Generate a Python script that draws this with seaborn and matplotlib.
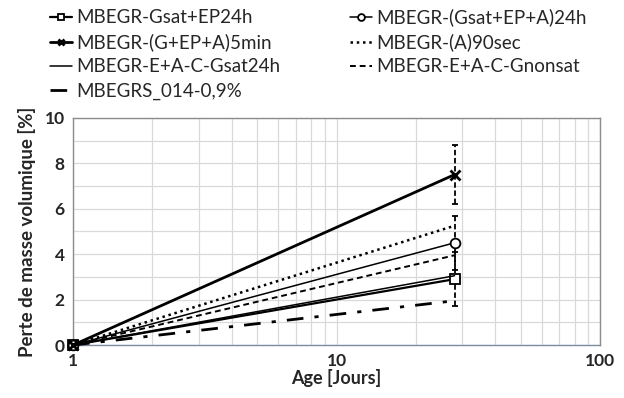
import matplotlib
matplotlib.use("Agg")
import matplotlib.pyplot as plt
import seaborn as sns
import pandas as pd
from matplotlib.ticker import FixedLocator, NullFormatter, LogLocator

sns.set_style("white")
plt.rcParams['font.family'] = ['Lato', 'DejaVu Sans']

# Data
ages = [1, 28]
series_names = ["MBEGR-Gsat+EP24h", "MBEGR-(Gsat+EP+A)24h",
                "MBEGR-(G+EP+A)5min", "MBEGR-(A)90sec",
                "MBEGR-E+A-C-Gsat24h", "MBEGR-E+A-C-Gnonsat",
                "MBEGRS_014-0,9%"]
series_values = [[0, 2.9], [0, 4.5], [0, 7.5], [0, 5.25],
                 [0, 3.05], [0, 3.95], [0, 1.95]]
err_names = ["MBEGR-Gsat+EP24h", "MBEGR-(Gsat+EP+A)24h", "MBEGR-(G+EP+A)5min"]
err_values = [1.2, 1.2, 1.3]

styles = {
    "MBEGR-Gsat+EP24h": dict(linestyle='-', marker='s', lw=1.6, ms=7),
    "MBEGR-(Gsat+EP+A)24h": dict(linestyle='-', marker='o', lw=1.1, ms=7),
    "MBEGR-(G+EP+A)5min": dict(linestyle='-', marker='x', lw=2.0, ms=7, mew=2),
    "MBEGR-(A)90sec": dict(linestyle=(0, (1, 1.5)), marker='', lw=1.8),
    "MBEGR-E+A-C-Gsat24h": dict(linestyle='-', marker='', lw=1.1),
    "MBEGR-E+A-C-Gnonsat": dict(linestyle=(0, (3, 2)), marker='', lw=1.4),
    "MBEGRS_014-0,9%": dict(linestyle=(0, (6, 4, 1.5, 4)), marker='', lw=2.0),
}

fig = plt.figure(figsize=(6.24, 3.98), dpi=100)
ax = fig.add_axes([0.117, 0.133, 0.845, 0.571])

for name, vals in zip(series_names, series_values):
    df = pd.DataFrame({"Age": ages, "Perte": vals})
    st = styles[name]
    sns.lineplot(data=df, x="Age", y="Perte", ax=ax, color='black',
                 linestyle=st['linestyle'], lw=st['lw'], marker=st['marker'] or None,
                 markersize=st.get('ms', 0), markeredgewidth=st.get('mew', 1.3),
                 markerfacecolor='white', markeredgecolor='black', label=name,
                 clip_on=False, zorder=3)

for name, e in zip(err_names, err_values):
    y = series_values[series_names.index(name)][1]
    eb = ax.errorbar([ages[1]], [y], yerr=[e], fmt='none', ecolor='black',
                     elinewidth=1.3, capsize=2, capthick=1.3, zorder=2)
    eb[-1][0].set_linestyle((0, (3, 1.5)))

ax.set_xscale('log')
ax.set_xlim(1, 100)
ax.set_ylim(0, 10)
ax.set_xticks([1, 10, 100])
ax.set_xticklabels(['1', '10', '100'])
ax.xaxis.set_minor_locator(LogLocator(base=10, subs=range(2, 10)))
ax.xaxis.set_minor_formatter(NullFormatter())
ax.set_yticks([0, 2, 4, 6, 8, 10])
ax.yaxis.set_minor_locator(FixedLocator([1, 3, 5, 7, 9]))
ax.grid(True, which='both', color='#d9d9d9', lw=0.9)
ax.set_axisbelow(True)
ax.tick_params(axis='both', which='both', length=0, labelsize=12.5, pad=6)
for lab in ax.get_xticklabels() + ax.get_yticklabels():
    lab.set_fontweight('bold')
for s in ax.spines.values():
    s.set_color('#8c8c8c')
    s.set_linewidth(1.0)
ax.spines['bottom'].set_color('#7f8ca0')

ax.set_xlabel('Age [Jours]', fontsize=13, fontweight='bold', labelpad=0)
ax.set_ylabel('Perte de masse volumique [%]', fontsize=13.5, fontweight='bold', labelpad=6)

# row-major order like the original legend
handles, labels = ax.get_legend_handles_labels()
order = [0, 2, 4, 6, 1, 3, 5]
leg = ax.legend([handles[i] for i in order], [labels[i] for i in order], ncol=2,
                loc='upper left', frameon=False, fontsize=13.5, markerscale=0.7,
                handlelength=1.2, handletextpad=0.2, columnspacing=3.7,
                labelspacing=0.38, borderaxespad=0)
leg.set_bbox_to_anchor((0.068, 0.998), transform=fig.transFigure)

fig.savefig('out.png', dpi=100)
